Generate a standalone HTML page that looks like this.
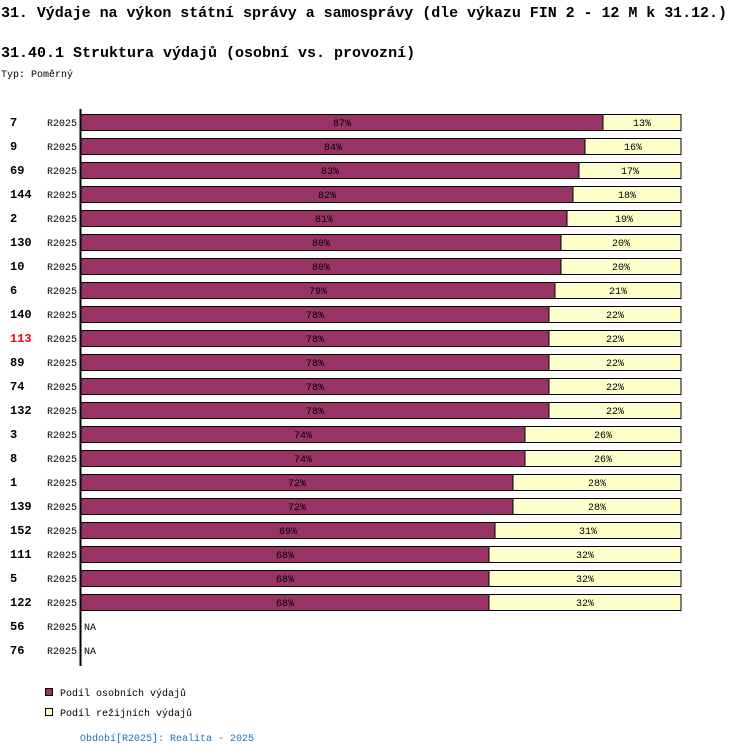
<!DOCTYPE html>
<html><head><meta charset="utf-8"><style>
body{margin:0;background:#fff;width:750px;height:756px;overflow:hidden}
svg{display:block;font-family:"Liberation Mono",monospace}
</style></head><body>
<svg id="chart" width="750" height="756">
<text x="1" y="17" font-size="15" font-weight="bold" textLength="726">31. Výdaje na výkon státní správy a samosprávy (dle výkazu FIN 2 - 12 M k 31.12.)</text>
<text x="1" y="57" font-size="15" font-weight="bold">31.40.1 Struktura výdajů (osobní vs. provozní)</text>
<text x="1" y="77" font-size="10">Typ: Poměrný</text>
<g id="bars"></g>
<line x1="80.5" y1="109" x2="80.5" y2="666" stroke="#000" stroke-width="2"/>
<rect x="45.5" y="688.5" width="7" height="7" fill="#993366" stroke="#000"/>
<text x="60" y="696" font-size="10">Podíl osobních výdajů</text>
<rect x="45.5" y="708.5" width="7" height="7" fill="#ffffcc" stroke="#000"/>
<text x="60" y="716" font-size="10">Podíl režijních výdajů</text>
<text x="80" y="741" font-size="10" fill="#1a73b8">Období[R2025]: Realita - 2025</text>
</svg>
<script>
const categories=["7","9","69","144","2","130","10","6","140","113","89","74","132","3","8","1","139","152","111","5","122","56","76"];
const personal=[87,84,83,82,81,80,80,79,78,78,78,78,78,74,74,72,72,69,68,68,68,null,null];
const overhead=[13,16,17,18,19,20,20,21,22,22,22,22,22,26,26,28,28,31,32,32,32,null,null];
const highlighted="113";
const NS="http://www.w3.org/2000/svg";
const g=document.getElementById("bars");
const x0=81,W=600,y0=114,step=24,bh=16;
const xs=v=>x0+v/100*W;
function mk(t,a){const e=document.createElementNS(NS,t);for(const k in a)e.setAttribute(k,a[k]);g.appendChild(e);return e;}
categories.forEach((c,i)=>{
  const y=y0+i*step;
  const lab=mk("text",{x:10,y:y+12,"font-size":12,"font-weight":"bold",fill:c===highlighted?"#ff0000":"#000"});
  lab.textContent=c;
  
  
  const per=mk("text",{x:47,y:y+12,"font-size":10});
  per.textContent="R2025";
  
  
  if(personal[i]==null){
    const na=mk("text",{x:84,y:y+12,"font-size":10});na.textContent="NA";
    
    
    return;
  }
  const p=personal[i],o=overhead[i];
  const r1=mk("rect",{x:xs(0),y:y+0.5,width:xs(p)-xs(0),height:bh,fill:"#993366",stroke:"#000"});
  
  
  const r2=mk("rect",{x:xs(p),y:y+0.5,width:xs(p+o)-xs(p),height:bh,fill:"#ffffcc",stroke:"#000"});
  
  
  const t1=mk("text",{x:(xs(0)+xs(p))/2,y:y+12,"font-size":10,"text-anchor":"middle"});t1.textContent=p+"%";
  
  
  const t2=mk("text",{x:(xs(p)+xs(p+o))/2,y:y+12,"font-size":10,"text-anchor":"middle"});t2.textContent=o+"%";
  
  
});
</script>
</body></html>
